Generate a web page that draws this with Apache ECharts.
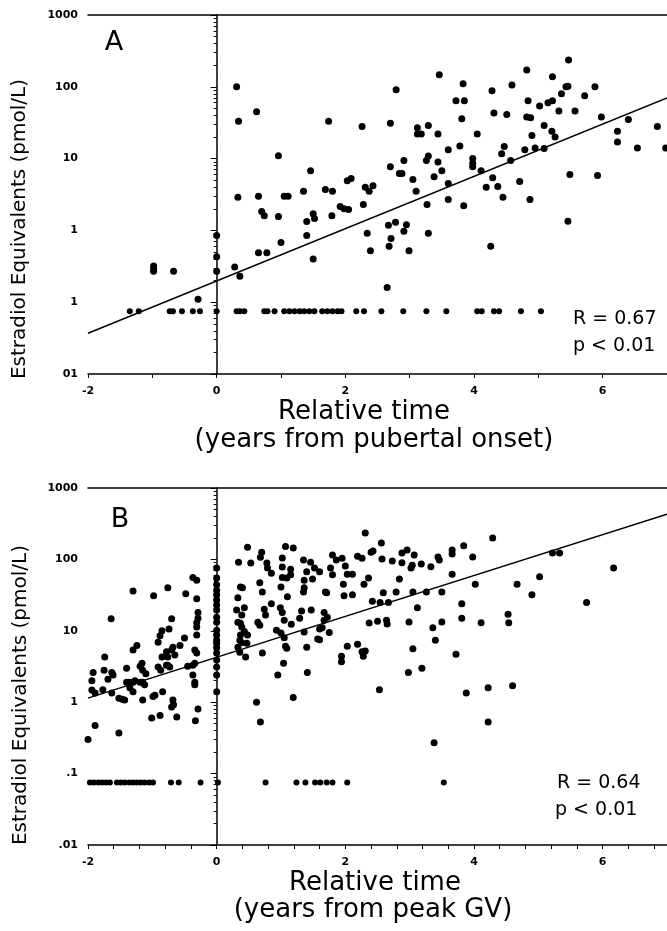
<!DOCTYPE html>
<html><head><meta charset="utf-8">
<script src="https://cdn.jsdelivr.net/npm/echarts@6/dist/echarts.min.js"></script>
<style>html,body{margin:0;padding:0;background:#fff}#c{width:667px;height:931px}</style>
</head><body><div id="c"></div>
<script>
// ---------- axis ticks ----------
const xLabelValues = [-2, 0, 2, 4, 6];
const xTickMarksA = [-2, -1, 0, 1, 2, 3, 4, 5, 6];
const xTickMarksB = [-2, -1.6, -1.2, -0.8, -0.4, 0, 0.4, 0.8, 1.2, 1.6, 2, 2.4, 2.8, 3.2, 3.6, 4, 4.4, 4.8, 5.2, 5.6, 6, 6.4, 6.8];
const yTickValues = [0.01, 0.1, 1, 10, 100, 1000];
const yTickLabelsA = ['01', '1', '1', '10', '100', '1000'];
const yTickLabelsB = ['.01', '.1', '1', '10', '100', '1000'];
const yMinorTicks = [0.02,0.03,0.04,0.05,0.06,0.07,0.08,0.09,0.2,0.3,0.4,0.5,0.6,0.7,0.8,0.9,2,3,4,5,6,7,8,9,20,30,40,50,60,70,80,90,200,300,400,500,600,700,800,900];

// ---------- panel A data ----------
const pointsA = [
 [0.31,100],[0.34,33],[0.62,45],[0.96,11],[1.74,33],[1.46,6.8],[0.33,2.9],[0.65,3.0],[0.70,1.84],[0.74,1.6],[0.96,1.56],[1.05,3.0],[1.11,3.0],[1.35,3.5],[1.40,1.33],[1.50,1.7],[1.52,1.47],[1.69,3.7],[1.80,3.5],[1.79,1.6],
 [-0.98,0.32],[-0.98,0.29],[-0.98,0.27],[-0.67,0.27],[0,0.85],[0,0.43],[0,0.27],[0.28,0.31],[0.36,0.23],[0.65,0.49],[0.78,0.49],[1.0,0.68],[1.40,0.85],[1.50,0.40],[-0.29,0.11],
 [2.34,0.91],[2.39,0.52],[2.67,1.18],[2.78,1.3],[2.95,1.2],[2.91,0.97],[2.71,0.77],[2.68,0.6],[2.99,0.52],[3.29,0.91],[2.65,0.16],[4.26,0.6],[5.46,1.34],
 [5.47,237],[4.82,172],[5.22,138],[3.46,147],[2.79,91],[3.83,110],[4.28,88],[4.59,106],[5.43,100],[5.46,102],[5.36,80],[5.88,100],[5.72,75],[3.72,64],[3.85,64],[4.84,64],[5.02,54],[5.15,60],[5.22,64],[5.32,46],[5.57,46],[4.31,43],[4.51,41],[4.82,38],[4.88,37],[5.98,38],[6.40,35],[6.85,28],[3.81,36],[2.26,28],[2.70,31],[3.12,27],[3.12,22],[3.18,22],[3.29,29],[3.44,22],[4.05,22],[5.09,29],[5.21,24],[5.26,20],[4.90,21],[6.23,24],[6.23,17],[6.54,14],[6.98,14],
 [3.78,15],[3.60,13.3],[4.47,14.7],[4.43,11.7],[4.79,13.3],[4.95,14],[5.09,13.8],[5.49,6.0],[5.92,5.8],[3.29,10.9],[3.26,9.4],[3.98,10],[3.98,8.6],[3.98,7.7],[4.11,6.8],[4.57,9.4],[2.70,7.7],[2.91,9.4],[2.84,6.2],[2.88,6.2],[3.44,9.0],[3.50,6.8],[3.38,5.6],[3.05,5.1],[3.60,4.5],[3.10,3.5],[3.27,2.3],[3.60,2.7],[3.84,2.2],[4.29,5.4],[4.19,4.0],[4.37,4.1],[4.45,2.9],[4.71,4.8],[4.87,2.7],[2.03,4.9],[2.09,5.3],[2.31,4.0],[2.37,3.5],[2.43,4.2],[1.92,2.15],[1.98,2.0],[2.05,1.96],[2.28,2.3]
];
const lowA = [
 [-1.35,0.075],[-1.21,0.075],[-0.73,0.075],[-0.68,0.075],[-0.54,0.075],[-0.37,0.075],[-0.26,0.075],[0,0.075],[0.31,0.075],[0.36,0.075],[0.43,0.075],[0.74,0.075],[0.79,0.075],[0.90,0.075],[1.05,0.075],[1.13,0.075],[1.21,0.075],[1.29,0.075],[1.36,0.075],[1.44,0.075],[1.52,0.075],[1.64,0.075],[1.72,0.075],[1.80,0.075],[1.88,0.075],[1.94,0.075],[2.17,0.075],[2.29,0.075],[2.56,0.075],[2.90,0.075],[3.26,0.075],[3.57,0.075],[4.05,0.075],[4.12,0.075],[4.31,0.075],[4.39,0.075],[4.73,0.075],[5.04,0.075]
];
const fitA = [[-2, 0.037], [7, 70]];

// ---------- panel B data ----------
const pointsB = [
 [-2.0,0.30],[-1.89,0.47],[-1.52,0.37],[-1.94,2.0],[-1.92,2.6],[-1.94,1.48],[-1.89,1.35],[-1.77,1.5],[-1.74,4.3],[-1.75,2.8],[-1.69,2.1],[-1.63,2.6],[-1.61,2.4],[-1.63,1.35],[-1.52,1.14],[-1.47,1.1],[-1.43,1.07],[-1.40,3.0],[-1.40,1.9],[-1.36,1.9],[-1.30,1.9],[-1.35,1.6],[-1.30,1.4],[-1.30,5.4],[-1.24,6.2],[-1.19,3.2],[-1.16,3.5],[-1.27,2.0],[-1.19,1.9],[-1.15,1.9],[-1.12,1.75],[-1.10,2.5],[-1.15,2.8],[-1.15,1.07],[-1.01,0.60],[-0.99,1.2],[-0.96,1.25],[-0.91,3.1],[-0.87,2.8],[-0.85,4.3],[-0.78,3.3],[-0.84,1.4],[-0.88,0.65],[-0.76,3.3],[-0.73,3.1],[-0.70,5.4],[-0.65,4.6],[-0.68,5.9],[-0.68,1.07],[-0.67,0.92],[-0.70,0.86],[-0.62,0.62],[-0.45,3.2],[-0.37,3.3],[-0.34,3.5],[-0.34,5.4],[-0.31,4.9],[-0.37,2.4],[-0.34,1.9],[-0.34,1.75],[-0.29,0.80],[-0.33,0.55],
 [-1.30,36],[-1.64,14.8],[-0.98,31],[-0.76,40],[-0.48,33],[-0.37,56],[-0.31,51],[-0.31,28],[-0.70,14.8],[-0.85,10],[-0.88,8.5],[-0.91,6.9],[-0.29,18],[-0.29,15],[-0.31,13],[-0.31,11.3],[-0.74,10.6],[-0.50,7.9],[-0.57,6.2],[-0.78,5.1],[-0.76,4.3],[-0.31,8.7],
 [0,76],[0,55],[0,44],[0,37],[0,32],[0,27],[0,23],[0,19.6],[0,15.5],[0,13.2],[0,10.2],[0,8.7],[0,7.4],[0,6.7],[0,5.8],[0,4.9],[0,3.9],[0,3.1],[0,2.4],[0,1.4],
 [0.62,1.0],[0.68,0.53],[1.19,1.16],[0.33,5.9],[0.39,6.8],[0.36,5.0],[0.45,4.3],[0.71,4.9],[1.09,5.7],[1.04,3.5],[0.95,2.4],[1.40,5.9],[1.41,2.6],[1.60,7.5],
 [0.48,148],[1.07,151],[1.19,145],[0.70,126],[0.68,107],[0.34,91],[0.53,89],[0.78,89],[0.79,76],[1.02,105],[1.02,78],[1.15,73],[1.15,61],[1.35,98],[1.46,91],[1.52,76],[1.60,67],[1.40,67],[1.49,53],[1.36,51],[1.80,115],[1.77,76],[0.67,47],[0.71,35],[0.85,64],[1.02,56],[1.09,55],[1.0,41],[1.10,30],[0.37,41],[0.40,40],[0.33,29],[1.36,40],[1.35,35],[1.69,35],[1.71,34],[0.85,24],[0.31,19.6],[0.39,16.6],[0.43,21],[0.74,20],[0.76,16.6],[0.99,21],[1.02,18],[1.32,19],[1.29,15],[1.47,19.6],[1.67,18],[0.33,13.2],[0.37,12.8],[0.39,11.3],[0.64,13.2],[0.67,12],[1.05,14],[1.16,12.4],[0.93,10.2],[1.0,9.3],[1.36,9.6],[0.48,8.7],[0.37,8.7],[1.05,8.0],[1.07,6.1],[1.60,10.6],[1.64,11],[1.57,7.7],[1.67,14],[1.72,15.5],[0.36,7.4],[0.47,6.7],[0.43,9.8],[1.75,9.5],
 [2.31,234],[4.29,199],[2.56,170],[3.84,155],[2.40,126],[2.43,131],[2.96,135],[2.88,123],[3.07,115],[3.66,135],[3.66,119],[1.95,104],[2.19,111],[2.26,104],[2.57,101],[2.73,95],[2.88,90],[3.04,83],[3.02,76],[3.18,86],[3.33,79],[3.44,108],[3.46,98],[3.98,108],[1.86,98],[2.0,81],[1.80,61],[2.03,62],[2.11,62],[2.36,55],[2.29,45],[1.97,45],[2.84,53],[3.66,62],[1.98,31],[2.11,32],[2.59,34],[2.79,35],[3.05,35],[3.26,35],[3.50,35],[4.02,45],[4.67,45],[5.02,57],[4.90,32],[5.22,123],[5.33,123],[6.17,76],[5.75,25],[2.42,26],[2.54,25],[2.67,25],[3.12,21],[3.81,24],
 [2.37,12.9],[2.50,13.6],[2.64,14],[2.65,12.5],[2.99,13.3],[3.36,11],[3.50,13.3],[3.81,15],[4.11,13],[4.53,17],[4.54,13],[3.40,7.4],[3.05,5.6],[3.72,4.7],[2.03,6.1],[1.94,4.4],[1.94,3.7],[2.19,6.5],[2.26,5.1],[2.31,5.2],[2.28,4.4],[2.98,2.6],[3.19,3.0],[4.22,1.6],[4.60,1.7],[2.53,1.5],[3.88,1.35],[4.22,0.53],[3.38,0.27]
];
const lowB = [
 [-1.97,0.075],[-1.91,0.075],[-1.84,0.075],[-1.78,0.075],[-1.72,0.075],[-1.66,0.075],[-1.55,0.075],[-1.49,0.075],[-1.43,0.075],[-1.36,0.075],[-1.30,0.075],[-1.24,0.075],[-1.18,0.075],[-1.12,0.075],[-1.05,0.075],[-0.99,0.075],[-0.71,0.075],[-0.59,0.075],[-0.25,0.075],[0.02,0.075],[0.76,0.075],[1.24,0.075],[1.38,0.075],[1.53,0.075],[1.61,0.075],[1.71,0.075],[1.80,0.075],[2.03,0.075],[3.53,0.075]
];
const fitB = [[-2, 1.14], [7, 430]];

// ---------- texts ----------
const yTitle = 'Estradiol Equivalents (pmol/L)';
const xTitle1 = 'Relative time';
const xTitleA2 = '(years from pubertal onset)';
const xTitleB2 = '(years from peak GV)';
const statsA = ['R = 0.67', 'p < 0.01'];
const statsB = ['R = 0.64', 'p < 0.01'];

const FONT = 'DejaVu Sans';
function labelFor(v, labels) {
  for (let i = 0; i < yTickValues.length; i++) {
    if (Math.abs(Math.log10(v) - Math.log10(yTickValues[i])) < 1e-6) return labels[i];
  }
  return '';
}
function yAxesFor(gridIndex, labels) {
  return [{
    type: 'log', logBase: 10, gridIndex, min: 0.01, max: 1000, position: 'left',
    axisLine: { show: true, lineStyle: { color: '#000', width: 1.5 } },
    axisTick: { show: true, length: 6, customValues: yTickValues, lineStyle: { color: '#000', width: 1 } },
    axisLabel: { customValues: yTickValues, formatter: v => labelFor(v, labels), fontFamily: FONT, fontWeight: 'bold', fontSize: 11, color: '#000', margin: 10 },
    splitLine: { show: false }
  }, {
    type: 'log', logBase: 10, gridIndex, min: 0.01, max: 1000, position: 'left',
    axisLine: { show: false },
    axisTick: { show: true, length: 3, customValues: yMinorTicks, lineStyle: { color: '#000', width: 1 } },
    axisLabel: { show: false }, splitLine: { show: false }
  }];
}
function xAxesFor(gridIndex, tickMarks) {
  return [{
    type: 'value', gridIndex, min: -2, max: 7, position: 'bottom',
    axisLine: { onZero: false, lineStyle: { color: '#000', width: 1.5 } },
    axisTick: { show: true, length: 4, customValues: tickMarks, lineStyle: { color: '#000', width: 1 } },
    axisLabel: { customValues: xLabelValues, fontFamily: FONT, fontWeight: 'bold', fontSize: 11, color: '#000', margin: 12 },
    splitLine: { show: false }
  }, {
    type: 'value', gridIndex, min: -2, max: 7, position: 'top',
    axisLine: { onZero: false, lineStyle: { color: '#000', width: 1.5 } },
    axisTick: { show: false }, axisLabel: { show: false }, splitLine: { show: false }
  }];
}
function txt(x, y, text, size, opts) {
  return Object.assign({ type: 'text', x, y, style: { text, font: size + 'px "' + FONT + '"', fill: '#000', align: 'center', verticalAlign: 'middle' } }, opts || {});
}
function scatter(data, xi, yi, size) {
  return { type: 'scatter', xAxisIndex: xi, yAxisIndex: yi, data, symbol: 'circle', symbolSize: size, itemStyle: { color: '#000', opacity: 1 }, silent: true };
}
function fit(data, xi, yi) {
  return { type: 'line', xAxisIndex: xi, yAxisIndex: yi, data, showSymbol: false, lineStyle: { color: '#000', width: 1.5 }, silent: true };
}

const chart = echarts.init(document.getElementById('c'), null, { renderer: 'canvas' });
const graphics = [
  txt(114, 43, 'A', 27),
  txt(120, 520, 'B', 27),
  txt(20, 229, yTitle, 20, { rotation: Math.PI / 2 }),
  txt(21, 695, yTitle, 20, { rotation: Math.PI / 2 }),
  txt(364, 412, xTitle1, 26),
  txt(374, 440, xTitleA2, 26),
  txt(375, 883, xTitle1, 26),
  txt(373, 910, xTitleB2, 26),
  txt(573, 319, statsA[0], 19),
  txt(573, 346, statsA[1], 19),
  txt(557, 783, statsB[0], 19),
  txt(555, 810, statsB[1], 19)
];
graphics.slice(8).forEach(g => { g.style.align = 'left'; });
chart.setOption({
  animation: false,
  backgroundColor: '#fff',
  grid: [
    { left: 88, top: 15, right: 0, bottom: 557 },
    { left: 88, top: 488, right: 0, bottom: 86 }
  ],
  xAxis: [...xAxesFor(0, xTickMarksA), ...xAxesFor(1, xTickMarksB)],
  yAxis: [...yAxesFor(0, yTickLabelsA), ...yAxesFor(1, yTickLabelsB)],
  series: [
    scatter(pointsA, 0, 0, 7), scatter(lowA, 0, 0, 6), fit(fitA, 0, 0),
    scatter(pointsB, 2, 2, 7), scatter(lowB, 2, 2, 6), fit(fitB, 2, 2)
  ],
  graphic: graphics
});
</script></body></html>
